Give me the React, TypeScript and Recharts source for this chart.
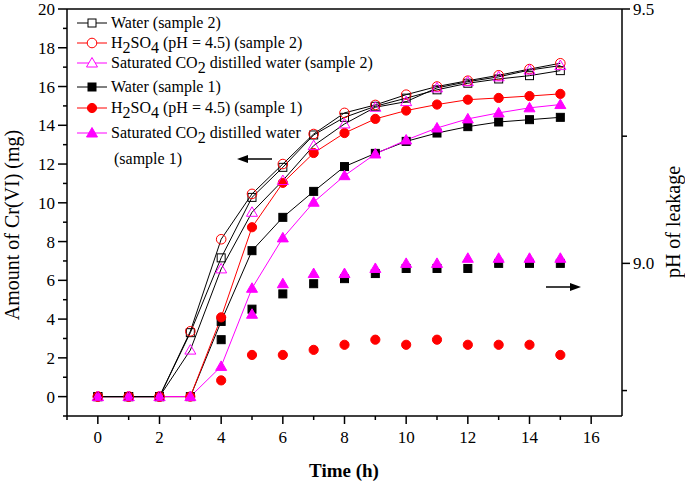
import React from "react";
import { ComposedChart, Line, Scatter, XAxis, YAxis } from "recharts";

// Cr(VI) released (mg), hourly 0..15 h
const hours = [0, 1, 2, 3, 4, 5, 6, 7, 8, 9, 10, 11, 12, 13, 14, 15];
const waterS2 = [0, 0, 0, 3.3, 7.16, 10.28, 11.83, 13.5, 14.41, 14.98, 15.4, 15.83, 16.17, 16.39, 16.56, 16.82];
const acidS2 = [0, 0, 0, 3.37, 8.12, 10.46, 12.0, 13.55, 14.64, 15.05, 15.58, 16.0, 16.3, 16.58, 16.9, 17.2];
const co2S2 = [0, 0, 0, 2.4, 6.59, 9.51, 11.15, 12.95, 14.07, 14.93, 15.22, 15.93, 16.25, 16.5, 16.85, 17.08];
const waterS1 = [0, 0, 0, 0, 3.88, 7.53, 9.25, 10.59, 11.87, 12.55, 13.17, 13.6, 13.93, 14.17, 14.29, 14.41];
const acidS1 = [0, 0, 0, 0, 4.09, 8.74, 11.03, 12.57, 13.6, 14.33, 14.76, 15.07, 15.32, 15.41, 15.51, 15.62];
const co2S1 = [0, 0, 0, 0, 1.56, 5.59, 8.19, 10.03, 11.4, 12.52, 13.24, 13.86, 14.33, 14.64, 14.9, 15.07];

// pH of leakage (sample 1)
const phHours = [4, 5, 6, 7, 8, 9, 10, 11, 12, 13, 14, 15];
const phWaterS1 = [8.85, 8.91, 8.94, 8.96, 8.97, 8.98, 8.99, 8.99, 8.99, 9.0, 9.0, 9.0];
const phAcidS1 = [8.77, 8.82, 8.82, 8.83, 8.84, 8.85, 8.84, 8.85, 8.84, 8.84, 8.84, 8.82];
const phCo2Hours = [5, 6, 7, 8, 9, 10, 11, 12, 13, 14, 15];
const phCo2S1 = [8.9, 8.96, 8.98, 8.98, 8.99, 9.0, 9.0, 9.01, 9.01, 9.01, 9.01];

const xTicks = [-1, 0, 1, 2, 3, 4, 5, 6, 7, 8, 9, 10, 11, 12, 13, 14, 15, 16];
const leftTicks = [-1, 0, 1, 2, 3, 4, 5, 6, 7, 8, 9, 10, 11, 12, 13, 14, 15, 16, 17, 18, 19, 20];
const rightTicks = [8.75, 9, 9.25, 9.5];

const legendLabels = [
  "Water (sample 2)",
  "H_2SO_4 (pH = 4.5) (sample 2)",
  "Saturated CO_2 distilled water (sample 2)",
  "Water (sample 1)",
  "H_2SO_4 (pH = 4.5) (sample 1)",
  "Saturated CO_2 distilled water",
];
const legendExtra = "(sample 1)";

const FONT = '"Liberation Serif", "Times New Roman", serif';
const BLACK = "#000";
const RED = "#ff0000";
const MAGENTA = "#ff00ff";

const rows = (ts: number[], vs: number[]) => ts.map((t, i) => ({ t, v: vs[i] }));

type MarkerKind = "square" | "circle" | "triangle";

function Marker({ kind, filled, color, cx, cy, bg = "none" }: { kind: MarkerKind; filled: boolean; color: string; cx: number; cy: number; bg?: string }) {
  if (cx == null || cy == null) return null;
  const fill = filled ? color : bg;
  if (kind === "square")
    return <rect x={cx - 4} y={cy - 4} width={8} height={8} fill={fill} stroke={color} strokeWidth={1} />;
  if (kind === "circle") return <circle cx={cx} cy={cy} r={filled ? 4.6 : 4.8} fill={fill} stroke={color} strokeWidth={1} />;
  return (
    <polygon
      points={`${cx},${cy - 5.5} ${cx - 5.5},${cy + 4} ${cx + 5.5},${cy + 4}`}
      fill={fill}
      stroke={color}
      strokeWidth={1}
    />
  );
}

const series = [
  { id: "w2", data: waterS2, line: BLACK, kind: "square" as MarkerKind, filled: false, color: BLACK, legendLine: BLACK },
  { id: "a2", data: acidS2, line: BLACK, kind: "circle" as MarkerKind, filled: false, color: RED, legendLine: RED },
  { id: "c2", data: co2S2, line: BLACK, kind: "triangle" as MarkerKind, filled: false, color: MAGENTA, legendLine: MAGENTA },
  { id: "w1", data: waterS1, line: BLACK, kind: "square" as MarkerKind, filled: true, color: BLACK, legendLine: BLACK },
  { id: "a1", data: acidS1, line: RED, kind: "circle" as MarkerKind, filled: true, color: RED, legendLine: RED },
  { id: "c1", data: co2S1, line: MAGENTA, kind: "triangle" as MarkerKind, filled: true, color: MAGENTA, legendLine: MAGENTA },
];

const phSeries = [
  { id: "pw", data: rows(phHours, phWaterS1), kind: "square" as MarkerKind, color: BLACK },
  { id: "pa", data: rows(phHours, phAcidS1), kind: "circle" as MarkerKind, color: RED },
  { id: "pc", data: rows(phCo2Hours, phCo2S1), kind: "triangle" as MarkerKind, color: MAGENTA },
];

function BottomTick({ x, y, payload }: any) {
  const v = payload.value;
  const major = v % 2 === 0;
  return (
    <g>
      <line x1={x} y1={y} x2={x} y2={y + (major ? 8 : 4)} stroke={BLACK} strokeWidth={1.5} />
      {major && (
        <text x={x} y={y + 27} textAnchor="middle" fontFamily={FONT} fontSize={17} fill={BLACK}>
          {v}
        </text>
      )}
    </g>
  );
}

function TopTick({ x, y }: any) {
  return <line x1={x} y1={y} x2={x} y2={y + 7} stroke={BLACK} strokeWidth={1.5} />;
}

function LeftTick({ x, y, payload }: any) {
  const v = payload.value;
  const major = v % 2 === 0;
  return (
    <g>
      <line x1={x} y1={y} x2={x - (major ? 9 : 4)} y2={y} stroke={BLACK} strokeWidth={1.5} />
      {major && (
        <text x={x - 12} y={y + 6} textAnchor="end" fontFamily={FONT} fontSize={17} fill={BLACK}>
          {v}
        </text>
      )}
    </g>
  );
}

function RightTick({ x, y, payload }: any) {
  const v = payload.value;
  const major = Math.abs(v * 2 - Math.round(v * 2)) < 1e-6;
  return (
    <g>
      <line x1={x} y1={y} x2={x + (major ? 8 : 5)} y2={y} stroke={BLACK} strokeWidth={1.5} />
      {major && (
        <text x={x + 11} y={y + 6} textAnchor="start" fontFamily={FONT} fontSize={17} fill={BLACK}>
          {v.toFixed(1)}
        </text>
      )}
    </g>
  );
}

function RichText({ x, y, s }: { x: number; y: number; s: string }) {
  const parts = s.split(/_(\d)/);
  return (
    <text x={x} y={y} fontFamily={FONT} fontSize={16} fill={BLACK}>
      {parts.map((p, i) =>
        i % 2 === 1 ? (
          <tspan key={i} dy={5}>
            {p}
          </tspan>
        ) : (
          <tspan key={i} dy={i === 0 ? 0 : -5}>
            {p}
          </tspan>
        )
      )}
    </text>
  );
}

const legendY = [23, 43, 63, 87, 108, 133];

function Overlay() {
  return (
    <svg width={685} height={483} style={{ position: "absolute", left: 0, top: 0, pointerEvents: "none" }}>
      {series.map((s, i) => (
        <g key={s.id}>
          <line x1={77} y1={legendY[i]} x2={107} y2={legendY[i]} stroke={s.legendLine} strokeWidth={1} />
          <Marker kind={s.kind} filled={s.filled} color={s.color} cx={92} cy={legendY[i]} bg="#fff" />
          <RichText x={111} y={legendY[i] + 5} s={legendLabels[i]} />
        </g>
      ))}
      <RichText x={114} y={164} s={legendExtra} />
      {/* arrows pointing to each axis */}
      <line x1={272} y1={159} x2={246} y2={159} stroke={BLACK} strokeWidth={1.5} />
      <polygon points="237,159 248,155 248,163" fill={BLACK} />
      <line x1={546} y1={287} x2={572} y2={287} stroke={BLACK} strokeWidth={1.5} />
      <polygon points="581,287 570,283 570,291" fill={BLACK} />
    </svg>
  );
}

export default function App() {
  return (
    <div style={{ position: "absolute", left: 0, top: 0, width: 685, height: 483, background: "#fff" }}>
      <ComposedChart width={685} height={483} margin={{ top: 8, right: 0, bottom: 0, left: 0 }}>
        <XAxis
          xAxisId="b"
          dataKey="t"
          type="number"
          domain={[-1, 17]}
          ticks={xTicks}
          interval={0}
          allowDataOverflow
          height={67}
          tickSize={0}
          tickMargin={0}
          tickLine={false}
          axisLine={{ stroke: BLACK, strokeWidth: 1.5 }}
          tick={<BottomTick />}
          label={(p: any) => (
            <text x={344} y={477} textAnchor="middle" fontFamily={FONT} fontSize={19} fontWeight="bold" fill={BLACK}>
              Time (h)
            </text>
          )}
        />
        <XAxis
          xAxisId="top"
          orientation="top"
          type="number"
          domain={[-1, 17]}
          ticks={xTicks}
          interval={0}
          allowDataOverflow
          height={1}
          tickSize={0}
          tickMargin={0}
          tickLine={false}
          axisLine={{ stroke: BLACK, strokeWidth: 1.5 }}
          tick={<TopTick />}
        />
        <YAxis
          yAxisId="left"
          dataKey="v"
          type="number"
          domain={[-1, 20]}
          ticks={leftTicks}
          interval={0}
          allowDataOverflow
          width={67}
          tickSize={0}
          tickMargin={0}
          tickLine={false}
          axisLine={{ stroke: BLACK, strokeWidth: 1.5 }}
          tick={<LeftTick />}
          label={(p: any) => (
            <text x={19} y={225} transform="rotate(-90 19 225)" textAnchor="middle" fontFamily={FONT} fontSize={20} fill={BLACK}>
              Amount of Cr(VI) (mg)
            </text>
          )}
        />
        <YAxis
          yAxisId="right"
          orientation="right"
          dataKey="v"
          type="number"
          domain={[8.7, 9.5]}
          ticks={rightTicks}
          interval={0}
          allowDataOverflow
          width={63}
          tickSize={0}
          tickMargin={0}
          tickLine={false}
          axisLine={{ stroke: BLACK, strokeWidth: 1.5 }}
          tick={<RightTick />}
          label={(p: any) => (
            <text x={680} y={222} transform="rotate(-90 680 222)" textAnchor="middle" fontFamily={FONT} fontSize={20} fill={BLACK}>
              pH of leakage
            </text>
          )}
        />
        {[...series.slice(3), ...series.slice(0, 3)].map((s) => (
          <Line
            key={s.id}
            xAxisId="b"
            yAxisId="left"
            data={rows(hours, s.data)}
            dataKey="v"
            type="linear"
            stroke={s.line}
            strokeWidth={1}
            isAnimationActive={false}
            dot={(p: any) => <Marker key={`${s.id}-${p.index}`} kind={s.kind} filled={s.filled} color={s.color} cx={p.cx} cy={p.cy} />}
            activeDot={false}
          />
        ))}
        {phSeries.map((s) => (
          <Scatter
            key={s.id}
            xAxisId="b"
            yAxisId="right"
            data={s.data}
            dataKey="v"
            isAnimationActive={false}
            shape={(p: any) => <Marker kind={s.kind} filled color={s.color} cx={p.cx} cy={p.cy} />}
          />
        ))}
      </ComposedChart>
      <Overlay />
    </div>
  );
}
